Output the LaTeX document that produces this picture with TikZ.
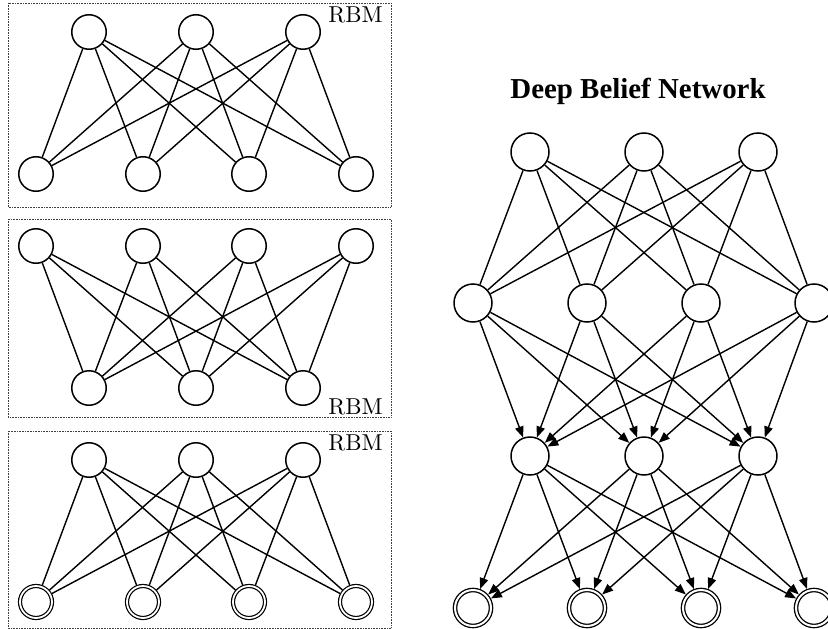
\documentclass[tikz,border=0pt]{standalone}
\usepackage{fontspec}
\newfontfamily\titlefont{Liberation Serif}
\newfontfamily\rbmfont{lmroman10-regular.otf}
\usepackage{tikz}
\usetikzlibrary{arrows.meta,positioning}

\begin{document}
\begin{tikzpicture}[x=1pt,y=-1pt,
		unit/.style={draw,circle,line width=1.5pt,minimum size=34.5pt,inner sep=0pt},
		visunit/.style={draw,circle,double,line width=1.2pt,double distance=1.8pt,outer sep=2.1pt,minimum size=32pt,inner sep=0pt},
		bigunit/.style={unit,minimum size=38pt},
		bigvis/.style={visunit,line width=1.3pt,double distance=2pt,outer sep=2.3pt,minimum size=36pt},
		rbmbox/.style={draw=black!75,densely dotted,line width=0.6pt},
		rbmlabel/.style={anchor=base east,inner sep=0pt,font=\rbmfont\fontsize{23}{23}\selectfont},
		link/.style={line width=1.4pt},
		arc/.style={line width=1.4pt,-{Triangle[length=11pt,width=8.5pt]}}]
		\useasboundingbox (0,0) rectangle (828,629);

		% stacked RBMs
		\draw[rbmbox] (8,3) rectangle (391,207);
		\draw[rbmbox] (8,219) rectangle (391,417);
		\draw[rbmbox] (8,431) rectangle (391,628);
		\node[rbmlabel] (lab1) at (383,23) {RBM};
		\node[rbmlabel] (lab2) at (383,414) {RBM};
		\node[rbmlabel] (lab3) at (383,450) {RBM};

		\foreach \x [count=\i] in {89,196,303} {
			\node[unit] (a\i) at (\x,32) {};
			\node[unit] (d\i) at (\x,388) {};
			\node[unit] (e\i) at (\x,460) {};
		}
		\foreach \x [count=\j] in {36,143,249,356} {
			\node[unit] (b\j) at (\x,174) {};
			\node[unit] (c\j) at (\x,246) {};
			\node[visunit] (f\j) at (\x,602) {};
		}
		\foreach \i in {1,2,3} {
			\foreach \j in {1,2,3,4} {
				\draw[link] (a\i) -- (b\j);
				\draw[link] (c\j) -- (d\i);
				\draw[link] (e\i) -- (f\j);
			}
		}

		% deep belief network
		\node[font=\titlefont\bfseries\fontsize{28.9}{30}\selectfont,anchor=base,inner sep=0pt] (title) at (638,98) {Deep Belief Network};
		\foreach \x [count=\i] in {530,644,758} {
			\node[bigunit] (h\i) at (\x,152) {};
			\node[bigunit] (k\i) at (\x,456) {};
		}
		\foreach \x [count=\j] in {473,587,701,814} {
			\node[bigunit] (g\j) at (\x,303) {};
			\node[bigvis] (v\j) at (\x,608) {};
		}
		\foreach \i in {1,2,3} {
			\foreach \j in {1,2,3,4} {
				\draw[link] (h\i) -- (g\j);
				\draw[arc] (g\j) -- (k\i);
				\draw[arc] (k\i) -- (v\j);
			}
		}
	\end{tikzpicture}
\end{document}
